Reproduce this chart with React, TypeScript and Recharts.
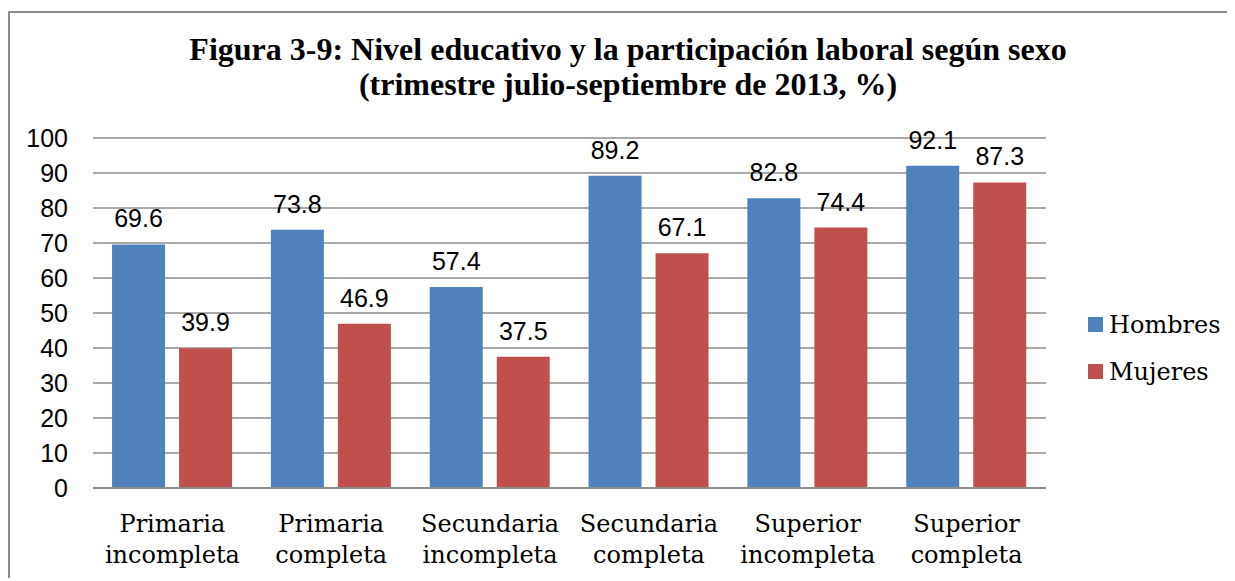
import { BarChart, Bar, XAxis, YAxis, CartesianGrid, Legend, LabelList } from 'recharts';

const categories = [
  'Primaria incompleta',
  'Primaria completa',
  'Secundaria incompleta',
  'Secundaria completa',
  'Superior incompleta',
  'Superior completa',
];
const hombres = [69.6, 73.8, 57.4, 89.2, 82.8, 92.1];
const mujeres = [39.9, 46.9, 37.5, 67.1, 74.4, 87.3];
const yTicks = [0, 10, 20, 30, 40, 50, 60, 70, 80, 90, 100];

const titleLines = [
  'Figura 3-9: Nivel educativo y la participación laboral según sexo',
  '(trimestre julio-septiembre de 2013, %)',
];

const data = categories.map((c, i) => ({ name: c, Hombres: hombres[i], Mujeres: mujeres[i] }));

const BLUE = '#4F81BD';
const RED = '#C0504D';
const GRID = '#8c8c8c';
const SERIF = '"DejaVu Serif", serif';
const SANS = '"Liberation Sans", Arial, sans-serif';

function CategoryTick(props: any) {
  const { x, y, payload } = props;
  const words = String(payload.value).split(' ');
  return (
    <text x={x} y={y} textAnchor="middle" fontFamily={SERIF} fontSize={24} fill="#000">
      <tspan x={x} dy={44}>{words[0]}</tspan>
      <tspan x={x} dy={31}>{words[1]}</tspan>
    </text>
  );
}

function LegendContent(props: any) {
  const items = props.payload || [];
  return (
    <div>
      {items.map((it: any) => (
        <div key={it.value} style={{ display: 'flex', alignItems: 'center', height: 47 }}>
          <span style={{ width: 15, height: 15, background: it.color, display: 'inline-block', marginRight: 6 }} />
          <span style={{ fontFamily: SERIF, fontSize: 24, color: '#000' }}>{it.value}</span>
        </div>
      ))}
    </div>
  );
}

export default function App() {
  return (
    <div style={{ position: 'relative', width: 1227, height: 570 }}>
      <div
        style={{
          position: 'absolute',
          left: 0,
          top: 3,
          width: 1227,
          height: 567,
          borderLeft: '2px solid #8c8c8c',
          borderTop: '2px solid #8c8c8c',
          boxSizing: 'border-box',
        }}
      />
      <div
        style={{
          position: 'absolute',
          left: 0,
          top: 24,
          width: 1240,
          textAlign: 'center',
          fontFamily: '"Liberation Serif", "Times New Roman", serif',
          fontWeight: 'bold',
          fontSize: 32,
          lineHeight: '35px',
        }}
      >
        {titleLines.map((t) => (
          <div key={t}>{t}</div>
        ))}
      </div>
      <div style={{ position: 'absolute', left: 0, top: 0 }}>
        <BarChart
          width={1227}
          height={570}
          data={data}
          margin={{ top: 130, right: 49, bottom: 0, left: 25 }}
          barCategoryGap="12%"
          barGap={14}
        >
          <CartesianGrid vertical={false} stroke={GRID} strokeWidth={1.5} />
          <XAxis
            dataKey="name"
            tick={<CategoryTick />}
            tickLine={false}
            tickSize={0}
            tickMargin={0}
            axisLine={{ stroke: GRID, strokeWidth: 2 }}
            interval={0}
            height={90}
          />
          <YAxis
            domain={[0, 100]}
            ticks={yTicks}
            width={60}
            tickSize={0}
            tickMargin={25}
            axisLine={false}
            tickLine={false}
            tick={{ fontFamily: SANS, fontSize: 25, fill: '#000' }}
            interval={0}
          />
          <Legend
            layout="horizontal"
            align="right"
            verticalAlign="middle"
            content={<LegendContent />}
            wrapperStyle={{ left: 1080, top: 293, width: 140 }}
          />
          <Bar dataKey="Hombres" fill={BLUE} isAnimationActive={false}>
            <LabelList dataKey="Hombres" position="top" offset={17} fill="#000" fontFamily={SANS} fontSize={25} />
          </Bar>
          <Bar dataKey="Mujeres" fill={RED} isAnimationActive={false}>
            <LabelList dataKey="Mujeres" position="top" offset={17} fill="#000" fontFamily={SANS} fontSize={25} />
          </Bar>
        </BarChart>
      </div>
    </div>
  );
}
